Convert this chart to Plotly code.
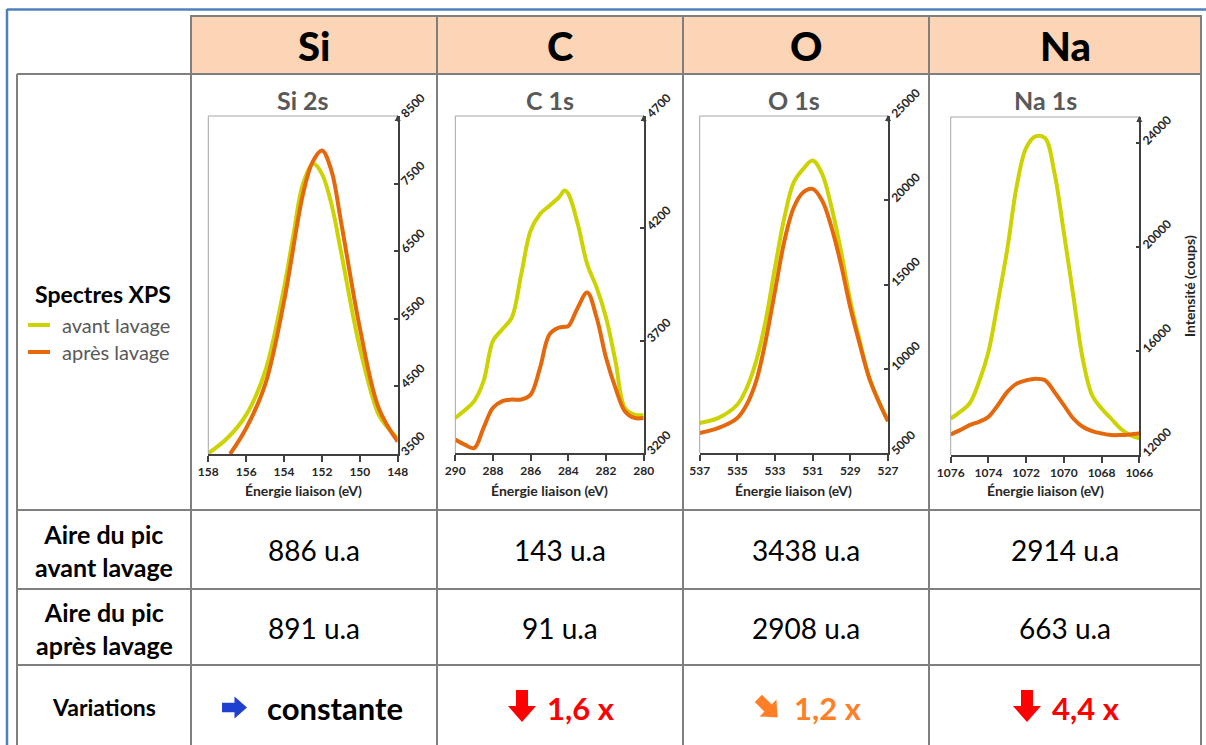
import math
import plotly.graph_objects as go

W, H = 1206, 745
FONT = "Lato, 'Open Sans', sans-serif"

# ---------------- data ----------------
elements = ["Si", "C", "O", "Na"]
spectra_titles = ["Si 2s", "C 1s", "O 1s", "Na 1s"]

si_x_avant = [158, 157, 156, 155, 154, 153.5, 153, 152.45, 152, 151.5, 151, 150, 149, 148.5, 148]
si_y_avant = [3510, 3733, 4079, 4723, 5960, 6752, 7495, 7792, 7644, 7198, 6505, 5069, 4079, 3881, 3733]
si_x_apres = [156.85, 156, 155, 154, 153, 152.5, 152, 151.5, 151, 150, 149, 148]
si_y_apres = [3500, 3881, 4525, 5762, 7346, 7817, 7990, 7693, 6950, 5366, 4178, 3683]

c_x = [290, 289.5, 289, 288.5, 288, 287.5, 287, 286.5, 286, 285.5, 285, 284.5, 284.2, 284, 283.5, 283, 282.5, 282, 281.5, 281, 280.5, 280]
c_y_avant = [3356, 3390, 3431, 3520, 3699, 3751, 3803, 3996, 4190, 4264, 4301, 4338, 4368, 4353, 4219, 4041, 3937, 3803, 3609, 3401, 3371, 3368]
c_y_apres = [3260, 3237, 3222, 3312, 3401, 3431, 3438, 3438, 3460, 3580, 3728, 3758, 3762, 3765, 3847, 3914, 3803, 3624, 3490, 3386, 3356, 3356]

o_x = [537, 536, 535, 534.5, 534, 533.5, 533, 532.5, 532, 531.5, 531, 530.5, 530, 529.5, 529, 528.5, 528, 527.5, 527]
o_y_avant = [6786, 7083, 7877, 8869, 10456, 12837, 16012, 18988, 21071, 21865, 22361, 21567, 19583, 17004, 14028, 11647, 9464, 8075, 6885]
o_y_apres = [6190, 6488, 7083, 7877, 9266, 11647, 14623, 17599, 19583, 20476, 20675, 19980, 18393, 16210, 13631, 11448, 9464, 8075, 6885]

na_x = [1076, 1075.5, 1075, 1074.5, 1074, 1073.5, 1073, 1072.5, 1072, 1071.5, 1071, 1070.5, 1070, 1069.5, 1069, 1068.5, 1068, 1067.5, 1067, 1066.5, 1066]
na_y_avant = [13404, 13660, 13979, 14809, 15958, 17873, 19915, 22341, 23809, 24255, 24191, 22851, 20553, 18128, 15702, 14298, 13787, 13404, 13021, 12766, 12638]
na_y_apres = [12792, 12957, 13149, 13277, 13468, 13915, 14426, 14745, 14872, 14936, 14872, 14426, 13915, 13404, 13085, 12919, 12830, 12766, 12766, 12792, 12830]

x_ranges = [[158, 148], [290, 280], [537, 527], [1076, 1066]]
y_ranges = [[3500, 8500], [3200, 4700], [5000, 25000], [12000, 25000]]
y_dticks = [1000, 500, 5000, 4000]

aire_avant = ["886 u.a", "143 u.a", "3438 u.a", "2914 u.a"]
aire_apres = ["891 u.a", "91 u.a", "2908 u.a", "663 u.a"]
variation_texts = ["constante", "1,6 x", "1,2 x", "4,4 x"]

series_names = ["avant lavage", "après lavage"]

# ---------------- style ----------------
C_AVANT = "#CCD300"
C_APRES = "#E5680C"
GRID = "#7F7F7F"
AX = "#404040"

def px(x):
    return x / W

def py(y):
    return 1 - y / H

def poly_path(pts):
    return "M " + " L ".join(f"{px(x):.5f},{py(y):.5f}" for x, y in pts) + " Z"

plot_boxes = [(208.3, 397.7, 116, 454), (455.3, 643.7, 116, 453),
              (699.7, 888.0, 116, 453), (950.7, 1139.3, 117, 455)]

curves = [
    (si_x_avant, si_y_avant, si_x_apres, si_y_apres),
    (c_x, c_y_avant, c_x, c_y_apres),
    (o_x, o_y_avant, o_x, o_y_apres),
    (na_x, na_y_avant, na_x, na_y_apres),
]

fig = go.Figure()
shapes = []
ann = []

TICKFONT = dict(family=FONT, size=12, color="#262626", weight="bold")

for i in range(4):
    xa = "x" if i == 0 else f"x{i+1}"
    ya = "y" if i == 0 else f"y{i+1}"
    xa_k = "xaxis" if i == 0 else f"xaxis{i+1}"
    ya_k = "yaxis" if i == 0 else f"yaxis{i+1}"
    x0, x1, y0, y1 = plot_boxes[i]
    xs1, ys1, xs2, ys2 = curves[i]
    fig.add_trace(go.Scatter(x=xs1, y=ys1, mode="lines", name=series_names[0],
                             line=dict(color=C_AVANT, width=4, shape="spline", smoothing=1.0),
                             xaxis=xa, yaxis=ya, showlegend=False, cliponaxis=True))
    fig.add_trace(go.Scatter(x=xs2, y=ys2, mode="lines", name=series_names[1],
                             line=dict(color=C_APRES, width=4, shape="spline", smoothing=1.0),
                             xaxis=xa, yaxis=ya, showlegend=False, cliponaxis=True))
    xr = x_ranges[i]
    fig.layout[xa_k] = dict(
        domain=[px(x0), px(x1)], range=xr, anchor=ya, automargin=False,
        showgrid=False, zeroline=False, showline=True, linecolor=AX, linewidth=1.5,
        ticks="outside", ticklen=6, tickcolor=AX, tickwidth=1.5,
        tick0=xr[1], dtick=2, tickformat="d", tickfont=TICKFONT, fixedrange=True,
    )
    fig.layout[ya_k] = dict(
        domain=[py(y1), py(y0)], range=y_ranges[i], anchor=xa, side="right", automargin=False,
        showgrid=False, zeroline=False, showline=True, linecolor=AX, linewidth=1.5,
        ticks="inside", ticklen=4, tickcolor=AX, tickwidth=1.5,
        tick0=y_ranges[i][0], dtick=y_dticks[i], tickangle=-45, tickformat="d",
        tickfont=TICKFONT, fixedrange=True,
    )
    shapes.append(dict(type="line", xref="paper", yref="paper", x0=px(x0), x1=px(x1), y0=py(y0), y1=py(y0),
                       line=dict(color="#A6A6A6", width=1)))
    shapes.append(dict(type="line", xref="paper", yref="paper", x0=px(x0), x1=px(x0), y0=py(y0), y1=py(y1),
                       line=dict(color="#A6A6A6", width=1)))
    ann.append(dict(xref="paper", yref="paper", x=px(x1), y=py(y0 - 1), ax=0, ay=8, showarrow=True,
                    arrowhead=2, arrowsize=0.8, arrowwidth=1.5, arrowcolor=AX, text=""))
    ann.append(dict(xref="paper", yref="paper", x=px((x0 + x1) / 2), y=py(100), text=spectra_titles[i],
                    showarrow=False, font=dict(family=FONT, size=25, color="#595959", weight="bold"),
                    xanchor="center", yanchor="middle"))
    ann.append(dict(xref="paper", yref="paper", x=px((x0 + x1) / 2), y=py(490), text="Énergie liaison (eV)",
                    showarrow=False, font=dict(family=FONT, size=14, color="#262626", weight="bold"),
                    xanchor="center", yanchor="middle"))

ann.append(dict(xref="paper", yref="paper", x=px(1189), y=py(286), text="Intensité (coups)", textangle=-90,
                showarrow=False, font=dict(family=FONT, size=14, color="#262626", weight="bold"),
                xanchor="center", yanchor="middle"))

# ---------------- table ----------------
shapes.append(dict(type="line", xref="paper", yref="paper", x0=px(7), x1=1, y0=py(9.5), y1=py(9.5),
                   line=dict(color="#4F81BD", width=2.5)))
shapes.append(dict(type="line", xref="paper", yref="paper", x0=px(7), x1=px(7), y0=py(9), y1=0,
                   line=dict(color="#4F81BD", width=2.5)))
shapes.append(dict(type="rect", xref="paper", yref="paper", x0=px(191), x1=px(1201), y0=py(74), y1=py(16),
                   fillcolor="#FBD5B5", line=dict(color=GRID, width=2), layer="below"))
col_x = [191, 437, 683, 929, 1201]
for cx in col_x:
    shapes.append(dict(type="line", xref="paper", yref="paper", x0=px(cx), x1=px(cx), y0=py(16), y1=0,
                       line=dict(color=GRID, width=2)))
shapes.append(dict(type="line", xref="paper", yref="paper", x0=px(17), x1=px(17), y0=py(74), y1=0,
                   line=dict(color=GRID, width=2)))
for ry in [74, 510, 589, 665]:
    shapes.append(dict(type="line", xref="paper", yref="paper", x0=px(17), x1=px(1201), y0=py(ry), y1=py(ry),
                       line=dict(color=GRID, width=2)))

col_c = [(col_x[k] + col_x[k + 1]) / 2 for k in range(4)]
for k in range(4):
    ann.append(dict(xref="paper", yref="paper", x=px(col_c[k]), y=py(46), text=elements[k], showarrow=False,
                    font=dict(family=FONT, size=40, color="#000000", weight=900), xanchor="center", yanchor="middle"))
    ann.append(dict(xref="paper", yref="paper", x=px(col_c[k]), y=py(550), text=aire_avant[k], showarrow=False,
                    font=dict(family=FONT, size=28, color="#000000"), xanchor="center", yanchor="middle"))
    ann.append(dict(xref="paper", yref="paper", x=px(col_c[k]), y=py(628), text=aire_apres[k], showarrow=False,
                    font=dict(family=FONT, size=28, color="#000000"), xanchor="center", yanchor="middle"))

# variation row: arrows (drawn) + text
var_colors = ["#000000", "#FF0000", "#FF7F27", "#FF0000"]
arrow_colors = ["#1F3FD0", "#FF0000", "#FF7F27", "#FF0000"]
text_x = [265, 545, 792, 1050]

def down_arrow(cx, cy, scale=1.0, angle_deg=0.0):
    # arrow pointing down (screen), centered at cx, cy
    base = [(-6, -16), (6, -16), (6, 0), (14, 0), (0, 16), (-14, 0), (-6, 0)]
    a = math.radians(angle_deg)
    pts = []
    for dx, dy in base:
        dx *= scale
        dy *= scale
        rx = dx * math.cos(a) - dy * math.sin(a)
        ry = dx * math.sin(a) + dy * math.cos(a)
        pts.append((cx + rx, cy + ry))
    return pts

arrow_polys = [
    down_arrow(234.5, 707.5, 0.78, -90),
    down_arrow(522, 706, 1.0, 0),
    down_arrow(768, 708, 0.85, -45),
    down_arrow(1027, 706, 1.0, 0),
]
for k in range(4):
    shapes.append(dict(type="path", xref="paper", yref="paper", path=poly_path(arrow_polys[k]),
                       fillcolor=arrow_colors[k], line=dict(width=0)))
    ann.append(dict(xref="paper", yref="paper", x=px(text_x[k]), y=py(708), text=variation_texts[k], showarrow=False,
                    font=dict(family=FONT, size=31, color=var_colors[k], weight="bold"),
                    xanchor="left", yanchor="middle"))

ann.append(dict(xref="paper", yref="paper", x=px(103), y=py(294), text="Spectres XPS", showarrow=False,
                font=dict(family=FONT, size=23, color="#000000", weight="bold"), xanchor="center", yanchor="middle"))
for name, col, yy in [(series_names[0], C_AVANT, 325), (series_names[1], C_APRES, 352)]:
    shapes.append(dict(type="line", xref="paper", yref="paper", x0=px(28), x1=px(50), y0=py(yy), y1=py(yy),
                       line=dict(color=col, width=4)))
    ann.append(dict(xref="paper", yref="paper", x=px(60), y=py(yy), text=name, showarrow=False,
                    font=dict(family=FONT, size=20, color="#595959"), xanchor="left", yanchor="middle"))

ann.append(dict(xref="paper", yref="paper", x=px(104), y=py(550), text="Aire du pic<br>avant lavage", showarrow=False,
                font=dict(family=FONT, size=25, color="#000000", weight="bold"), xanchor="center", yanchor="middle"))
ann.append(dict(xref="paper", yref="paper", x=px(104), y=py(628), text="Aire du pic<br>après lavage", showarrow=False,
                font=dict(family=FONT, size=25, color="#000000", weight="bold"), xanchor="center", yanchor="middle"))
ann.append(dict(xref="paper", yref="paper", x=px(104), y=py(707), text="Variations", showarrow=False,
                font=dict(family=FONT, size=23, color="#000000", weight="bold"), xanchor="center", yanchor="middle"))

fig.update_layout(
    width=W, height=H, autosize=False,
    margin=dict(l=0, r=0, t=0, b=0, pad=0, autoexpand=False),
    paper_bgcolor="white", plot_bgcolor="rgba(0,0,0,0)",
    shapes=shapes, annotations=ann, showlegend=False,
    font=dict(family=FONT),
)

fig.write_html("out.html", config={"displayModeBar": False},
               post_script="document.body.style.margin='0px';document.body.style.overflow='hidden';")
